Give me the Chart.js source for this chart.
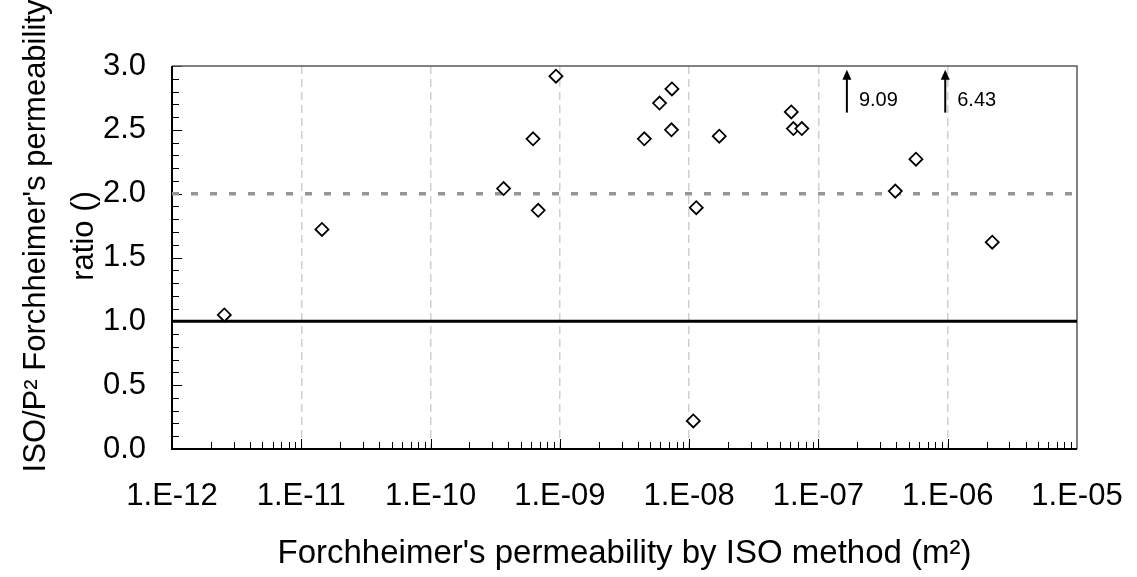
<!DOCTYPE html>
<html><head><meta charset="utf-8">
<script src="https://cdn.jsdelivr.net/npm/chart.js@4.4.1/dist/chart.umd.min.js"></script>
<style>html,body{margin:0;padding:0;background:#fff;overflow:hidden}#wrap{width:1137px;height:577px;position:relative}</style>
</head><body><div id="wrap"><canvas id="c" width="1137" height="577"></canvas></div>
<script>
// ---- data ----
const permeabilityISO = [2.54e-12, 1.445e-11, 3.67e-10, 6.2e-10, 6.8e-10, 9.33e-10, 4.5e-9, 5.9e-9, 7.36e-9, 7.3e-9, 1.135e-8, 1.077e-8, 1.71e-8, 6.17e-8, 6.4e-8, 7.44e-8, 3.93e-7, 5.68e-7, 2.21e-6];
const permeabilityRatio = [1.05, 1.72, 2.04, 2.43, 1.87, 2.92, 2.43, 2.71, 2.82, 2.50, 1.89, 0.22, 2.45, 2.64, 2.51, 2.51, 2.02, 2.27, 1.62];
const offScaleX = [1.66e-7, 9.57e-7];
const offScaleLabels = ['9.09', '6.43'];
const xTickValues = [1e-12, 1e-11, 1e-10, 1e-9, 1e-8, 1e-7, 1e-6, 1e-5];
const yTickValues = [0, 0.5, 1.0, 1.5, 2.0, 2.5, 3.0];
const lineX = [1e-12, 1e-5];
const unityLine = [1, 1];
const thresholdLine = [2, 2];
const xTitle = "Forchheimer's permeability by ISO method (m²)";
const yTitle = ["ISO/P² Forchheimer's permeability", "ratio ()"];

const FONT = "'Liberation Sans', Arial, sans-serif";
const CA = {left: 172, right: 1077, top: 66, bottom: 449};

function fmtExp(v) {
  const e = Math.round(Math.log10(v));
  const s = Math.abs(e) < 10 ? '0' + Math.abs(e) : '' + Math.abs(e);
  return '1.E' + (e < 0 ? '-' : '+') + s;
}

const framePlugin = {
  id: 'frame',
  beforeDatasetsDraw(chart) {
    const {ctx, chartArea: a, scales: {x, y}} = chart;
    ctx.save();
    ctx.strokeStyle = '#000';
    ctx.lineWidth = 1;
    ctx.beginPath();
    for (let e = -12; e < -5; e++) {
      for (let m = 1; m <= 9; m++) {
        const v = m * Math.pow(10, e);
        const px = Math.round(x.getPixelForValue(v)) + 0.5;
        const len = m === 1 ? 10 : 7;
        ctx.moveTo(px, a.bottom);
        ctx.lineTo(px, a.bottom - len);
      }
    }
    for (let i = 0; i <= 30; i++) {
      const v = i / 10;
      const py = Math.round(y.getPixelForValue(v)) + 0.5;
      const len = i % 5 === 0 ? 10 : 7;
      ctx.moveTo(a.left, py);
      ctx.lineTo(a.left + len, py);
    }
    ctx.stroke();
    ctx.strokeStyle = '#5a5a5a';
    ctx.lineWidth = 1.5;
    ctx.beginPath();
    ctx.moveTo(a.left, a.top);
    ctx.lineTo(a.right, a.top);
    ctx.lineTo(a.right, a.bottom);
    ctx.stroke();
    ctx.strokeStyle = '#000';
    ctx.lineWidth = 2;
    ctx.beginPath();
    ctx.moveTo(a.left, a.top);
    ctx.lineTo(a.left, a.bottom);
    ctx.lineTo(a.right, a.bottom);
    ctx.stroke();
    ctx.restore();
  },
  afterDatasetsDraw(chart) {
    const {ctx, scales: {x, y}} = chart;
    ctx.save();
    ctx.fillStyle = '#000';
    ctx.strokeStyle = '#000';
    ctx.lineWidth = 2;
    offScaleX.forEach((v, i) => {
      const px = x.getPixelForValue(v);
      const yTop = y.getPixelForValue(2.97);
      const yBot = y.getPixelForValue(2.635);
      ctx.beginPath();
      ctx.moveTo(px, yBot);
      ctx.lineTo(px, yTop + 8);
      ctx.stroke();
      ctx.beginPath();
      ctx.moveTo(px, yTop);
      ctx.lineTo(px - 4.5, yTop + 10);
      ctx.lineTo(px + 4.5, yTop + 10);
      ctx.closePath();
      ctx.fill();
      ctx.font = '20px ' + FONT;
      ctx.textBaseline = 'alphabetic';
      ctx.textAlign = 'left';
      ctx.fillText(offScaleLabels[i], px + 12, y.getPixelForValue(2.69));
    });
    ctx.restore();
  },
  afterDraw(chart) {
    const {ctx} = chart;
    ctx.save();
    ctx.fillStyle = '#000';
    ctx.font = '31px ' + FONT;
    ctx.textAlign = 'center';
    ctx.textBaseline = 'alphabetic';
    const baselines = [45, 93];
    yTitle.forEach((t, i) => {
      ctx.save();
      ctx.translate(baselines[i], 236);
      ctx.rotate(-Math.PI / 2);
      ctx.fillText(t, 0, 0);
      ctx.restore();
    });
    ctx.restore();
  }
};

new Chart(document.getElementById('c'), {
  data: {
    datasets: [
      {
        type: 'scatter',
        data: permeabilityISO.map((v, i) => ({x: v, y: permeabilityRatio[i]})),
        pointStyle: 'rectRot',
        pointRadius: 6.5,
        pointHoverRadius: 6.5,
        pointBackgroundColor: '#fff',
        pointBorderColor: '#000',
        pointBorderWidth: 1.8,
        order: 0
      },
      {
        type: 'line',
        data: lineX.map((v, i) => ({x: v, y: unityLine[i]})),
        borderColor: '#000',
        borderWidth: 3,
        pointRadius: 0,
        order: 2
      },
      {
        type: 'line',
        data: lineX.map((v, i) => ({x: v, y: thresholdLine[i]})),
        borderColor: '#969696',
        borderWidth: 3.5,
        borderDash: [7, 12],
        pointRadius: 0,
        order: 1
      }
    ]
  },
  options: {
    responsive: false,
    devicePixelRatio: 1,
    animation: false,
    events: [],
    layout: {padding: {left: 0, top: CA.top, right: 1137 - CA.right, bottom: 0}},
    plugins: {legend: {display: false}, tooltip: {enabled: false}},
    scales: {
      x: {
        type: 'logarithmic',
        min: xTickValues[0],
        max: xTickValues[xTickValues.length - 1],
        afterBuildTicks: (s) => { s.ticks = xTickValues.map(v => ({value: v, major: true})); },
        afterFit: (s) => { s.height = 577 - CA.bottom; s.paddingLeft = 0; s.paddingRight = 0; },
        ticks: {
          autoSkip: false, maxRotation: 0, padding: 29, color: '#000',
          font: {family: FONT, size: 31},
          callback: (v) => fmtExp(v)
        },
        grid: {
          drawTicks: false,
          lineWidth: 1.5,
          color: (c) => (c.tick && (c.tick.value <= xTickValues[0] * 1.01 || c.tick.value >= xTickValues[xTickValues.length - 1] * 0.99)) ? 'rgba(0,0,0,0)' : '#d0d0d0'
        },
        border: {display: false, dash: [8, 5]},
        title: {
          display: true, text: xTitle, color: '#000',
          font: {family: FONT, size: 33, lineHeight: 1.2},
          padding: {top: 0, bottom: 3}
        }
      },
      y: {
        type: 'linear',
        min: yTickValues[0],
        max: yTickValues[yTickValues.length - 1],
        afterBuildTicks: (s) => { s.ticks = yTickValues.map(v => ({value: v})); },
        afterFit: (s) => { s.width = CA.left; s.paddingTop = 0; s.paddingBottom = 0; },
        ticks: {
          padding: 26, color: '#000',
          font: {family: FONT, size: 31},
          callback: (v) => Number(v).toFixed(1)
        },
        grid: {display: false, drawTicks: false},
        border: {display: false},
        title: {display: false}
      }
    }
  },
  plugins: [framePlugin]
});
</script>
</body></html>
